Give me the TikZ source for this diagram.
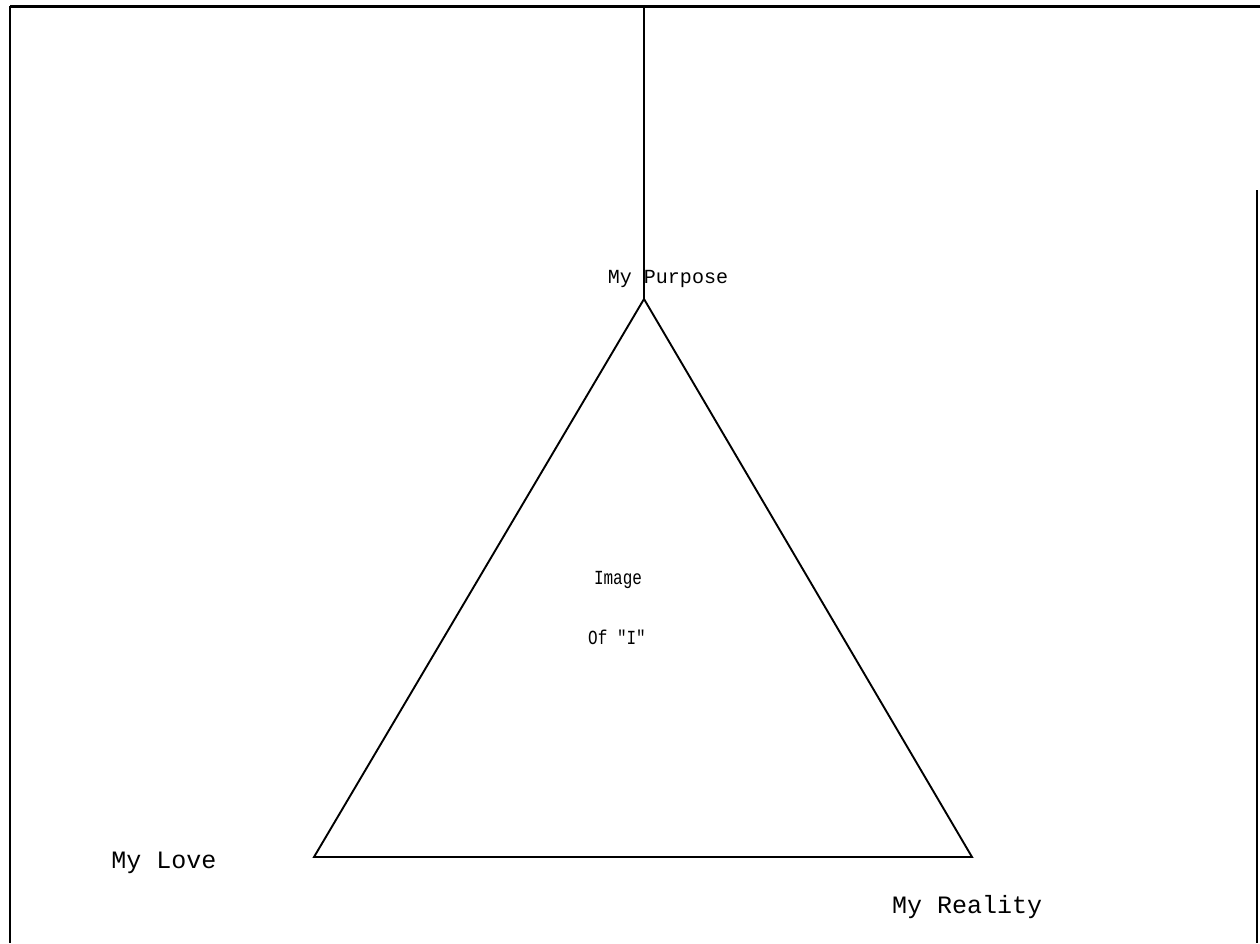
\documentclass[tikz,border=0pt]{standalone}
\usepackage{fontspec}
\setmonofont{Liberation Mono}

\begin{document}
\begin{tikzpicture}[x=1pt,y=-1pt,
    lbl/.style={font=\ttfamily\fontsize{20}{22}\selectfont, inner sep=0pt},
    biglbl/.style={font=\ttfamily\fontsize{25}{28}\selectfont, inner sep=0pt},
    innerlbl/.style={font=\ttfamily\fontsize{20}{22}\selectfont, inner sep=0pt, xscale=0.8}]
            \useasboundingbox (0,0) rectangle (1260,943);

            \coordinate (TL) at (10,6);
            \coordinate (TR) at (1260,6);
            \coordinate (BL) at (10,943);
            \coordinate (RT) at (1257,190);
            \coordinate (RB) at (1257,943);
            \coordinate (T) at (644,6);
            \coordinate (P) at (644,299);
            \coordinate (L) at (314,857);
            \coordinate (R) at (972,857);

            % frame
            \draw[line width=3pt] (TL) -- (TR);
            \draw[line width=2.6pt] (TL) -- (BL);
            \draw[line width=1.6pt] (RT) -- (RB);

            % stem and triangle
            \draw[line width=2pt] (T) -- (P);
            \draw[line width=1.9pt, line join=miter] (P) -- (L) -- (R) -- cycle;

            \node[lbl] (purpose) at (668,279) {My Purpose};
            \node[innerlbl] (image) at (618,580) {Image};
            \node[innerlbl] (of) at (617,637) {Of "I"};
            \node[biglbl] (love) at (164,863) {My Love};
            \node[biglbl] (reality) at (967,907) {My Reality};
        \end{tikzpicture}
\end{document}
